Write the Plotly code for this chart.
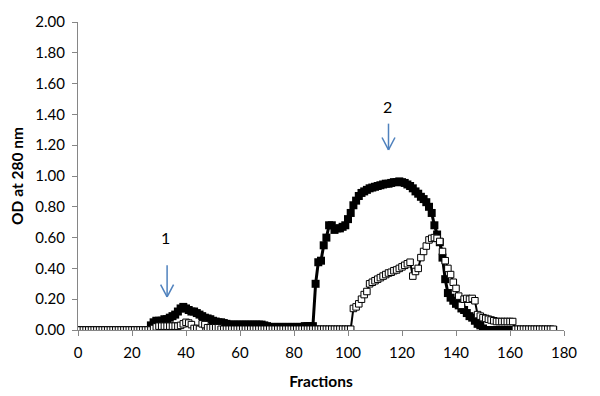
import plotly.graph_objects as go

fractions = list(range(1, 177))

od_filled = [
    0, 0, 0, 0, 0, 0, 0, 0, 0, 0,
    0, 0, 0, 0, 0, 0, 0, 0, 0, 0,
    0, 0, 0, 0, 0, 0,
    0.03, 0.05, 0.06, 0.06,
    0.06, 0.07, 0.07, 0.08, 0.09, 0.10, 0.12, 0.14, 0.15, 0.14,
    0.13, 0.12, 0.12, 0.11, 0.10, 0.09, 0.08, 0.075, 0.07, 0.06,
    0.055, 0.05, 0.05, 0.045, 0.04, 0.035, 0.035, 0.035, 0.035, 0.035,
    0.035, 0.035, 0.035, 0.035, 0.035, 0.035, 0.035, 0.035, 0.03, 0.025,
    0.02, 0.02, 0.02, 0.02, 0.02, 0.02, 0.02, 0.02, 0.02, 0.02,
    0.02, 0.02, 0.02, 0.025, 0.025, 0.025, 0.025,
    0.30, 0.44, 0.45,
    0.55, 0.60, 0.68, 0.68, 0.65, 0.66, 0.66, 0.67, 0.68, 0.72,
    0.76, 0.81, 0.84, 0.87, 0.89, 0.90, 0.91, 0.92, 0.925, 0.93,
    0.935, 0.94, 0.945, 0.95, 0.95, 0.955, 0.96, 0.96, 0.965, 0.96,
    0.955, 0.945, 0.935, 0.92, 0.90, 0.885, 0.865, 0.85, 0.83, 0.80,
    0.76, 0.68, 0.62, 0.57, 0.47, 0.33, 0.24, 0.21, 0.19, 0.17,
    0.16, 0.14, 0.13, 0.11, 0.09, 0.08, 0.06, 0.04, 0.03, 0.01,
    0, 0, 0, 0, 0, 0, 0, 0, 0, 0,
    0, 0, 0, 0, 0, 0, 0, 0, 0, 0,
    0, 0, 0, 0, 0, 0,
]

od_open = [
    0, 0, 0, 0, 0, 0, 0, 0, 0, 0,
    0, 0, 0, 0, 0, 0, 0, 0, 0, 0,
    0, 0, 0, 0, 0, 0, 0,
    0.01, 0.02, 0.025,
    0.025, 0.025, 0.025, 0.025, 0.025, 0.025, 0.025, 0.03, 0.04, 0.05,
    0.045, 0.035, 0.01, 0.01, 0.005, 0.04, 0.035, 0.015, 0.015, 0.015,
    0.015, 0.015, 0.005, 0.005, 0.005, 0.005, 0.005, 0.005, 0.005, 0.005,
    0.005, 0.005, 0.005, 0.005, 0.005, 0.005, 0.005, 0.005, 0.005, 0.005,
    0.005, 0.005, 0.005, 0.005, 0.005, 0.005, 0.005, 0.005, 0.005, 0.005,
    0.005, 0.005, 0.005, 0.005, 0.005, 0.005, 0.005, 0.005, 0.005, 0.005,
    0.005, 0.005, 0.005, 0.005, 0.005, 0.005, 0.005, 0.005, 0.005, 0.005,
    0.005,
    0.14, 0.15, 0.17, 0.20, 0.23, 0.25, 0.30, 0.31, 0.32,
    0.33, 0.34, 0.35, 0.36, 0.37, 0.375, 0.385, 0.39, 0.40, 0.41,
    0.42, 0.43, 0.44, 0.35, 0.38, 0.40, 0.47, 0.51, 0.545, 0.585,
    0.595, 0.60, 0.595, 0.575, 0.51, 0.45, 0.40, 0.36, 0.31, 0.27,
    0.22, 0.16, 0.20, 0.205, 0.20, 0.205, 0.19, 0.10, 0.09, 0.08,
    0.075, 0.07, 0.065, 0.06, 0.055, 0.055, 0.055, 0.055, 0.055, 0.055,
    0.055, 0.005, 0.005, 0.005, 0.005, 0.005, 0.005, 0.005, 0.005, 0.005,
    0.005, 0.005, 0.005, 0.005, 0.005, 0.005,
]

x_ticks = [0, 20, 40, 60, 80, 100, 120, 140, 160, 180]
y_ticks = [0.0, 0.2, 0.4, 0.6, 0.8, 1.0, 1.2, 1.4, 1.6, 1.8, 2.0]

peak_labels = ["1", "2"]
peak_x = [33, 115]
arrow_tail = [0.42, 1.34]
arrow_tip = [0.215, 1.17]
label_y = [0.60, 1.45]

FONT = "Lato, 'Open Sans', sans-serif"
AXIS = "#868686"
BLUE = "#4f81bd"

fig = go.Figure()
fig.add_trace(go.Scatter(
    x=fractions, y=od_filled, mode="lines+markers",
    line=dict(color="black", width=3),
    marker=dict(symbol="square", size=8, color="black"),
    showlegend=False,
))
fig.add_trace(go.Scatter(
    x=fractions, y=od_open, mode="lines+markers",
    line=dict(color="black", width=2),
    marker=dict(symbol="square", size=6.5, color="white", line=dict(color="black", width=1)),
    showlegend=False,
))

for lab, px, tail, tip, ly in zip(peak_labels, peak_x, arrow_tail, arrow_tip, label_y):
    fig.add_shape(type="line", x0=px, x1=px, y0=tail, y1=tip,
                  line=dict(color=BLUE, width=1.5))
    fig.add_shape(type="line", x0=px - 2.4, x1=px, y0=tip + 0.08, y1=tip,
                  line=dict(color=BLUE, width=1.5))
    fig.add_shape(type="line", x0=px + 2.4, x1=px, y0=tip + 0.08, y1=tip,
                  line=dict(color=BLUE, width=1.5))
    fig.add_annotation(x=px - 0.5, y=ly, text=lab, showarrow=False,
                       font=dict(family=FONT, size=16, color="black"))

fig.update_layout(
    width=600, height=396,
    margin=dict(l=70, r=44, t=14, b=74),
    paper_bgcolor="white", plot_bgcolor="white",
    font=dict(family=FONT, size=15, color="black"),
)
fig.update_xaxes(
    range=[0, 180], tickvals=x_ticks, showgrid=False, zeroline=False,
    showline=True, linecolor=AXIS, linewidth=1, automargin=False,
    ticks="outside", ticklen=5, tickcolor=AXIS, ticklabelstandoff=4,
    title=dict(text="<b>Fractions</b>", font=dict(family=FONT, size=15.5), standoff=16),
    tickfont=dict(family=FONT, size=15),
)
fig.update_yaxes(
    range=[0, 2.0], tickvals=y_ticks, tickformat=".2f", showgrid=False, zeroline=False,
    showline=True, linecolor=AXIS, linewidth=1, automargin=False,
    ticks="outside", ticklen=5, tickcolor=AXIS, ticklabelstandoff=4,
    title=dict(text="<b>OD at 280 nm</b>", font=dict(family=FONT, size=15.5), standoff=10),
    tickfont=dict(family=FONT, size=15),
)

fig.write_html("out.html")
